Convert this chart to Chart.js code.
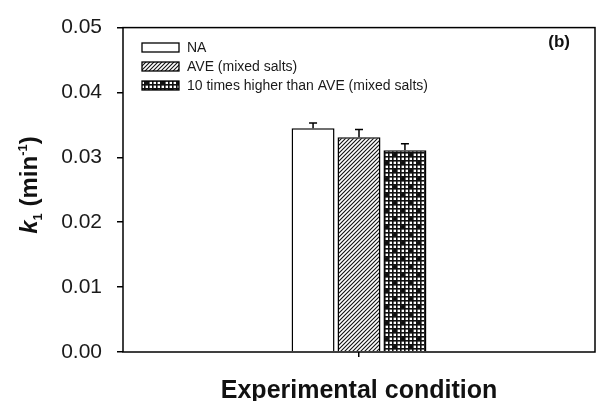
<!DOCTYPE html>
<html>
<head>
<meta charset="utf-8">
<script src="https://cdn.jsdelivr.net/npm/chart.js@4/dist/chart.umd.min.js"></script>
<style>
  html, body { margin: 0; padding: 0; background: #fff; }
  #wrap { width: 596px; height: 401px; position: relative; }
</style>
</head>
<body>
<div id="wrap"><canvas id="chart"></canvas></div>
<script>
// data
const categories = [''];
const seriesNames = ['NA', 'AVE (mixed salts)', '10 times higher than AVE (mixed salts)'];
const seriesValues = [[0.0345], [0.0331], [0.0311]];
const seriesErrors = [[0.0008], [0.0012], [0.0010]];
const yTicks = [0, 0.01, 0.02, 0.03, 0.04, 0.05];

const FONT = '"Liberation Sans", Arial, sans-serif';

// fill patterns
function hatchPattern() {
  const c = document.createElement('canvas');
  c.width = 4; c.height = 4;
  const g = c.getContext('2d');
  g.fillStyle = '#fff';
  g.fillRect(0, 0, 4, 4);
  g.strokeStyle = '#111';
  g.lineWidth = 1.1;
  g.beginPath();
  g.moveTo(-1, 5); g.lineTo(5, -1);
  g.moveTo(-1, 1); g.lineTo(1, -1);
  g.moveTo(3, 5); g.lineTo(5, 3);
  g.stroke();
  return g.createPattern(c, 'repeat');
}

function meshPattern() {
  const c = document.createElement('canvas');
  c.width = 16; c.height = 16;
  const g = c.getContext('2d');
  g.fillStyle = '#fff';
  g.fillRect(0, 0, 16, 16);
  g.fillStyle = '#111';
  for (let i = 0; i < 16; i += 4) {
    g.fillRect(i, 0, 1.6, 16);
    g.fillRect(0, i, 16, 1.6);
  }
  g.beginPath();
  g.arc(3, 3, 2.2, 0, Math.PI * 2);
  g.arc(11, 11, 2.2, 0, Math.PI * 2);
  g.fill();
  return g.createPattern(c, 'repeat');
}

const fills = ['#ffffff', hatchPattern(), meshPattern()];

// error bars (upper only)
const errorBars = {
  id: 'errorBars',
  afterDatasetsDraw(chart) {
    const ctx = chart.ctx;
    const y = chart.scales.y;
    ctx.save();
    ctx.strokeStyle = '#000';
    ctx.lineWidth = 1.5;
    chart.data.datasets.forEach((ds, i) => {
      const meta = chart.getDatasetMeta(i);
      meta.data.forEach((bar, j) => {
        const top = y.getPixelForValue(ds.data[j] + seriesErrors[i][j]);
        ctx.beginPath();
        ctx.moveTo(bar.x, bar.y);
        ctx.lineTo(bar.x, top);
        ctx.moveTo(bar.x - 4, top);
        ctx.lineTo(bar.x + 4, top);
        ctx.stroke();
      });
    });
    ctx.restore();
  }
};

// frame, legend, titles
const decorations = {
  id: 'decorations',
  afterDraw(chart) {
    const ctx = chart.ctx;
    const a = chart.chartArea;
    ctx.save();
    ctx.strokeStyle = '#000';
    ctx.lineWidth = 1.5;
    ctx.strokeRect(a.left, a.top, a.right - a.left, a.bottom - a.top);

    // legend inside the plot
    ctx.font = '14px ' + FONT;
    ctx.textBaseline = 'middle';
    chart.data.datasets.forEach((ds, i) => {
      const yy = 48 + i * 19;
      ctx.fillStyle = ds.backgroundColor;
      ctx.fillRect(142, yy - 5, 37, 9);
      ctx.lineWidth = 1.3;
      ctx.strokeRect(142, yy - 5, 37, 9);
      ctx.fillStyle = '#1a1a1a';
      ctx.fillText(ds.label, 187, yy);
    });

    // panel label
    ctx.font = 'bold 17px ' + FONT;
    ctx.fillStyle = '#111';
    ctx.textAlign = 'right';
    ctx.fillText('(b)', 570, 42);

    // x title
    ctx.font = 'bold 25px ' + FONT;
    ctx.textAlign = 'center';
    ctx.textBaseline = 'alphabetic';
    ctx.fillText('Experimental condition', (a.left + a.right) / 2, 398);

    // y title: k1 (min-1)
    ctx.translate(37, 185);
    ctx.rotate(-Math.PI / 2);
    const parts = [
      { t: 'k', f: 'italic bold 24px ', dy: 0 },
      { t: '1', f: 'bold 13px ', dy: 5 },
      { t: ' (min', f: 'bold 24px ', dy: 0 },
      { t: '-1', f: 'bold 13px ', dy: -10 },
      { t: ')', f: 'bold 24px ', dy: 0 }
    ];
    let w = 0;
    parts.forEach(p => { ctx.font = p.f + FONT; w += ctx.measureText(p.t).width; });
    let x = -w / 2;
    ctx.textAlign = 'left';
    parts.forEach(p => {
      ctx.font = p.f + FONT;
      ctx.fillText(p.t, x, p.dy);
      x += ctx.measureText(p.t).width;
    });
    ctx.restore();
  }
};

new Chart(document.getElementById('chart'), {
  type: 'bar',
  data: {
    labels: categories,
    datasets: seriesNames.map((name, i) => ({
      label: name,
      data: seriesValues[i],
      backgroundColor: fills[i],
      borderColor: '#000',
      borderWidth: 1.5,
      borderSkipped: 'bottom',
      categoryPercentage: 0.292,
      barPercentage: 0.935
    }))
  },
  options: {
    responsive: true,
    maintainAspectRatio: false,
    animation: false,
    layout: { padding: { top: 21, right: 1, left: 0, bottom: 0 } },
    plugins: {
      legend: { display: false },
      tooltip: { enabled: false }
    },
    scales: {
      x: {
        offset: true,
        grid: { offset: false, drawOnChartArea: false, tickLength: 5, color: '#000', lineWidth: 1.5 },
        border: { display: false },
        ticks: { display: false },
        afterFit(scale) { scale.height = 49; }
      },
      y: {
        min: 0,
        max: 0.05,
        afterBuildTicks(scale) { scale.ticks = yTicks.map(v => ({ value: v })); },
        grid: { drawOnChartArea: false, tickLength: 6, color: '#000', lineWidth: 1.5 },
        border: { display: false },
        ticks: {
          padding: 15,
          color: '#1a1a1a',
          font: { family: FONT, size: 21 },
          callback: v => v.toFixed(2)
        },
        afterFit(scale) { scale.width = 123; }
      }
    }
  },
  plugins: [errorBars, decorations]
});
</script>
</body>
</html>
